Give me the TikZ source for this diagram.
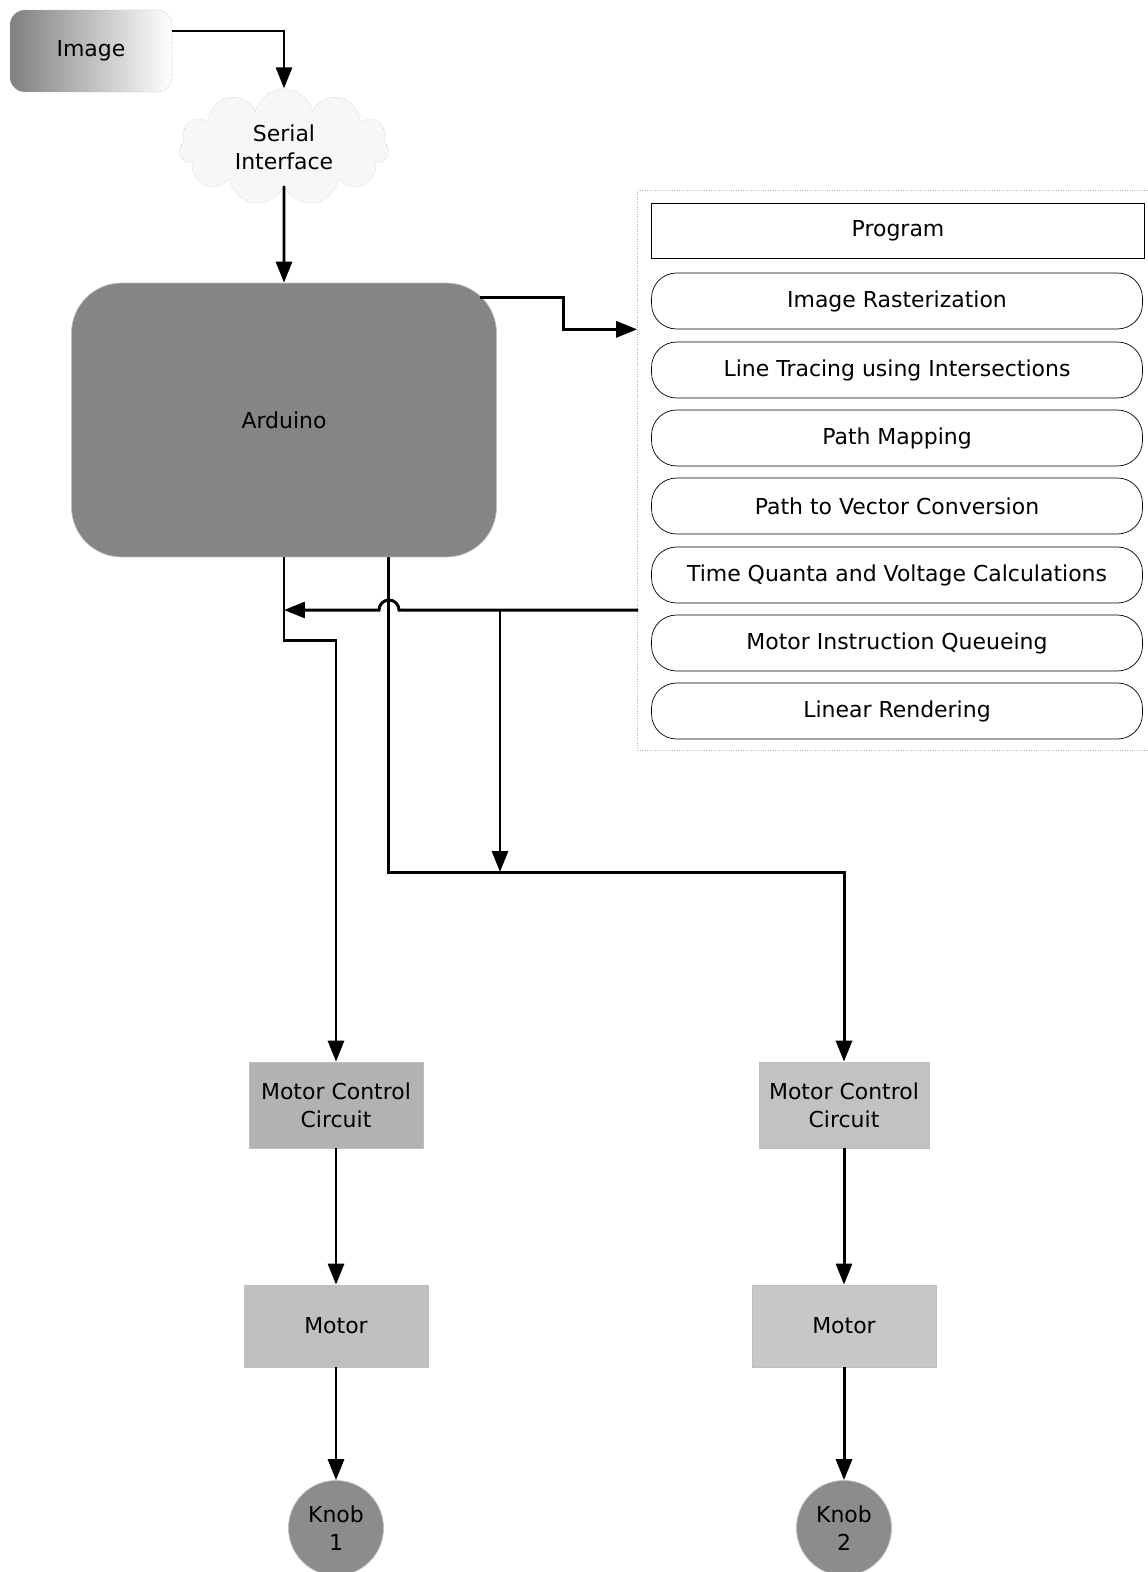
\documentclass[tikz,border=0pt]{standalone}
\usepackage{fontspec}
\setmainfont{DejaVu Sans}
\usetikzlibrary{arrows.meta, shapes.symbols}

\begin{document}
\begin{tikzpicture}[x=0.02cm, y=-0.02cm,
    font=\fontsize{12.5}{16}\selectfont,
    >={Triangle[length=0.42cm, width=0.32cm]},
    link/.style={->, line width=1.7pt},
    block/.style={draw=gray!50, fill=black!30, align=center, inner sep=0pt},
    stage/.style={draw, thin, rounded corners=0.5cm, minimum width=9.82cm,
        minimum height=1.12cm}]
    \useasboundingbox (0,0) rectangle (1147,1572);

    \node[draw=gray!60, densely dotted, rounded corners=0.3cm, left color=black!50,
        right color=white, minimum width=3.24cm, minimum height=1.64cm] (image)
        at (91,51) {Image};
    \node[cloud, cloud puffs=11, aspect=1.8, draw=gray!45, densely dotted,
        fill=gray!6, minimum width=4.2cm, minimum height=2.3cm, align=center]
        (serial) at (284,147) {Serial\\Interface};
    \node[block, fill=black!48, rounded corners=1cm, minimum width=8.5cm,
        minimum height=5.48cm] (arduino) at (284,420) {Arduino};

    % program stages
    \node[draw=gray!60, densely dotted, minimum width=10.3cm,
        minimum height=11.2cm] (program) at (895,470) {};
    \node[draw, thin, minimum width=9.86cm, minimum height=1.1cm] (title)
        at (898,231) {Program};
    \node[stage] (raster) at (897,301) {Image Rasterization};
    \node[stage] (tracing) at (897,370) {Line Tracing using Intersections};
    \node[stage] (mapping) at (897,438) {Path Mapping};
    \node[stage] (vector) at (897,506) {Path to Vector Conversion};
    \node[stage] (quanta) at (897,575) {Time Quanta and Voltage Calculations};
    \node[stage] (queue) at (897,643) {Motor Instruction Queueing};
    \node[stage] (render) at (897,711) {Linear Rendering};

    \node[block, minimum width=3.48cm, minimum height=1.72cm] (mcc1)
        at (336,1105) {Motor Control\\Circuit};
    \node[block, fill=black!24, minimum width=3.4cm, minimum height=1.72cm] (mcc2)
        at (844,1105) {Motor Control\\Circuit};
    \node[block, fill=black!25, minimum width=3.68cm, minimum height=1.64cm]
        (motor1) at (336,1326) {Motor};
    \node[block, fill=black!22, minimum width=3.68cm, minimum height=1.64cm]
        (motor2) at (844,1326) {Motor};
    \node[block, circle, fill=black!45, minimum size=1.9cm] (knob1)
        at (336,1528) {Knob\\1};
    \node[block, circle, fill=black!45, minimum size=1.9cm] (knob2)
        at (844,1528) {Knob\\2};

    \coordinate (fb) at (638,610);
    \coordinate (split) at (500,872);
    \coordinate (tap) at ([xshift=2.1cm]arduino.south);
    \coordinate (hop) at (fb -| tap);

    \draw[link] ([yshift=0.4cm]image.east) -| (serial.north);
    \draw[link] (serial.south) -- (arduino.north);
    \draw[link] ([xshift=-0.34cm, yshift=-0.3cm]arduino.north east) -- ++(84,0)
        |- (program.west |- raster.south);
    \draw[link] (fb) -- ([xshift=0.2cm]hop)
        arc[start angle=0, end angle=180, radius=0.2cm] -- (fb -| arduino.south);
    \draw[link] (fb -| split) -- (split);
    \draw[link] (arduino.south) -- ++(0,83) -| (mcc1.north);
    \draw[link] (tap) |- (split) -| (mcc2.north);
    \draw[link] (mcc1) -- (motor1);
    \draw[link] (motor1) -- (knob1);
    \draw[link] (mcc2) -- (motor2);
    \draw[link] (motor2) -- (knob2);
\end{tikzpicture}
\end{document}
